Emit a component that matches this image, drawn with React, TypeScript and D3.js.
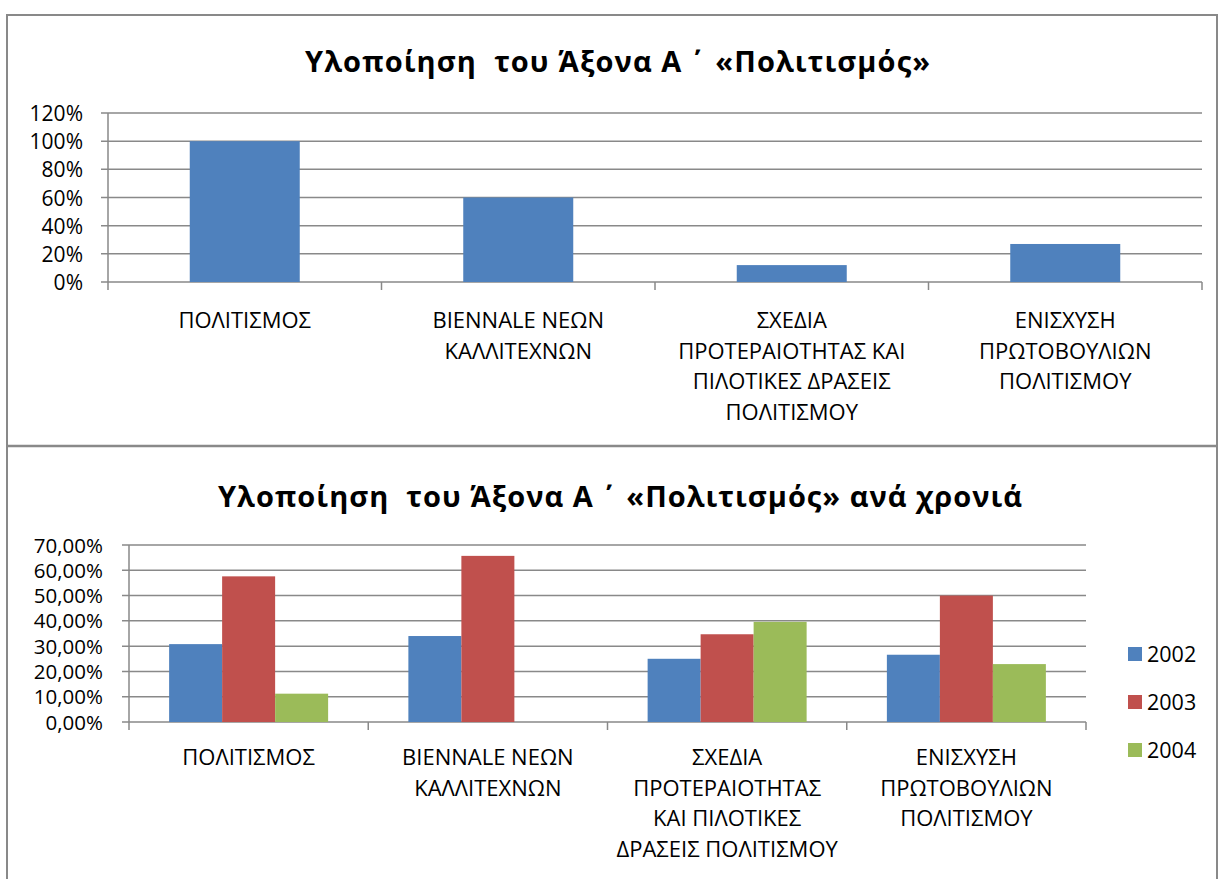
import * as d3 from "d3";

// top chart data
const categories1 = [
  ["ΠΟΛΙΤΙΣΜΟΣ"],
  ["BIENNALE ΝΕΩΝ", "ΚΑΛΛΙΤΕΧΝΩΝ"],
  ["ΣΧΕΔΙΑ", "ΠΡΟΤΕΡΑΙΟΤΗΤΑΣ ΚΑΙ", "ΠΙΛΟΤΙΚΕΣ ΔΡΑΣΕΙΣ", "ΠΟΛΙΤΙΣΜΟΥ"],
  ["ΕΝΙΣΧΥΣΗ", "ΠΡΩΤΟΒΟΥΛΙΩΝ", "ΠΟΛΙΤΙΣΜΟΥ"],
];
const totals = [1.0, 0.6, 0.12, 0.27];
const ticks1 = [0, 0.2, 0.4, 0.6, 0.8, 1.0, 1.2];

// bottom chart data
const categories2 = [
  ["ΠΟΛΙΤΙΣΜΟΣ"],
  ["BIENNALE ΝΕΩΝ", "ΚΑΛΛΙΤΕΧΝΩΝ"],
  ["ΣΧΕΔΙΑ", "ΠΡΟΤΕΡΑΙΟΤΗΤΑΣ", "ΚΑΙ ΠΙΛΟΤΙΚΕΣ", "ΔΡΑΣΕΙΣ ΠΟΛΙΤΙΣΜΟΥ"],
  ["ΕΝΙΣΧΥΣΗ", "ΠΡΩΤΟΒΟΥΛΙΩΝ", "ΠΟΛΙΤΙΣΜΟΥ"],
];
const years = ["2002", "2003", "2004"];
const v2002 = [0.308, 0.34, 0.25, 0.266];
const v2003 = [0.576, 0.657, 0.347, 0.5];
const v2004 = [0.112, 0, 0.396, 0.229];
const ticks2 = [0, 0.1, 0.2, 0.3, 0.4, 0.5, 0.6, 0.7];

const title1 = "Υλοποίηση  του Άξονα Α\u2009\u0384\u00a0\u00a0\u00a0«Πολιτισμός»";
const title2 = "Υλοποίηση  του Άξονα Α\u2009\u0384\u00a0\u00a0\u00a0«Πολιτισμός» ανά χρονιά";

const colors = ["#4f81bd", "#c0504d", "#9bbb59"];
const font = "Open Sans, sans-serif";
const grid = "#898989";

export default function App() {
  const idx = d3.range(4).map(String);

  // top chart scales
  const x1 = d3.scaleBand().domain(idx).range([108, 1202]);
  const y1 = d3.scaleLinear().domain([0, 1.2]).range([282, 113]);
  const barW1 = 110;

  // bottom chart scales
  const x2 = d3.scaleBand().domain(idx).range([129, 1086]);
  const y2 = d3.scaleLinear().domain([0, 0.7]).range([722, 545]);
  const inner = d3.scaleBand().domain(years).range([0, 159]);
  const series = [v2002, v2003, v2004];
  const pct2 = (d: number) => d3.format(".2f")(d * 100).replace(".", ",") + "%";

  return (
    <svg width={1219} height={879} style={{ position: "absolute", left: 0, top: 0, background: "#fff" }} fontFamily={font}>
      {/* frame */}
      <line x1={7} x2={1217} y1={15} y2={15} stroke={grid} strokeWidth={2} />
      <line x1={7} x2={7} y1={14} y2={879} stroke={grid} strokeWidth={2} />
      <line x1={1217} x2={1217} y1={14} y2={879} stroke={grid} strokeWidth={2} />
      <line x1={7} x2={1217} y1={446} y2={446} stroke={grid} strokeWidth={2.5} />

      {/* top chart */}
      <text x={305} y={72} fontSize={29} fontWeight="bold" fill="#000" xmlSpace="preserve" textLength={625} lengthAdjust="spacing">
        {title1}
      </text>
      {ticks1.map((t) => (
        <g key={t}>
          <line x1={101} x2={1202} y1={y1(t)} y2={y1(t)} stroke={grid} strokeWidth={1.5} />
          <text x={83} y={y1(t) + 8} textAnchor="end" fontSize={21}>
            {Math.round(t * 100)}%
          </text>
        </g>
      ))}
      <line x1={108} x2={108} y1={113} y2={282} stroke={grid} strokeWidth={1.5} />
      {d3.range(5).map((i) => {
        const x = 108 + i * x1.bandwidth();
        return <line key={i} x1={x} x2={x} y1={282} y2={290} stroke={grid} strokeWidth={1.5} />;
      })}
      {totals.map((v, i) => (
        <rect
          key={i}
          x={x1(String(i))! + (x1.bandwidth() - barW1) / 2}
          y={y1(v)}
          width={barW1}
          height={y1(0) - y1(v)}
          fill={colors[0]}
        />
      ))}
      {categories1.map((lines, i) => (
        <text key={i} textAnchor="middle" fontSize={22}>
          {lines.map((l, j) => (
            <tspan key={j} x={x1(String(i))! + x1.bandwidth() / 2} y={328 + j * 30.5}>
              {l}
            </tspan>
          ))}
        </text>
      ))}

      {/* bottom chart */}
      <text x={218} y={507} fontSize={29} fontWeight="bold" fill="#000" xmlSpace="preserve" textLength={804} lengthAdjust="spacing">
        {title2}
      </text>
      {ticks2.map((t) => (
        <g key={t}>
          <line x1={122} x2={1086} y1={y2(t)} y2={y2(t)} stroke={grid} strokeWidth={1.5} />
          <text x={103} y={y2(t) + 7.5} textAnchor="end" fontSize={20.5}>
            {pct2(t)}
          </text>
        </g>
      ))}
      <line x1={129} x2={129} y1={545} y2={722} stroke={grid} strokeWidth={1.5} />
      {d3.range(5).map((i) => {
        const x = 129 + i * x2.bandwidth();
        return <line key={i} x1={x} x2={x} y1={722} y2={730} stroke={grid} strokeWidth={1.5} />;
      })}
      {series.map((vals, s) =>
        vals.map((v, i) =>
          v > 0 ? (
            <rect
              key={`${s}-${i}`}
              x={x2(String(i))! + (x2.bandwidth() - 159) / 2 + inner(years[s])!}
              y={y2(v)}
              width={inner.bandwidth()}
              height={y2(0) - y2(v)}
              fill={colors[s]}
            />
          ) : null
        )
      )}
      {categories2.map((lines, i) => (
        <text key={i} textAnchor="middle" fontSize={22}>
          {lines.map((l, j) => (
            <tspan key={j} x={x2(String(i))! + x2.bandwidth() / 2} y={765 + j * 30.5}>
              {l}
            </tspan>
          ))}
        </text>
      ))}
      {years.map((yr, i) => (
        <g key={yr} transform={`translate(1128, ${654 + i * 48})`}>
          <rect x={0} y={-7} width={14} height={14} fill={colors[i]} />
          <text x={19} y={8} fontSize={21.5}>
            {yr}
          </text>
        </g>
      ))}
    </svg>
  );
}
